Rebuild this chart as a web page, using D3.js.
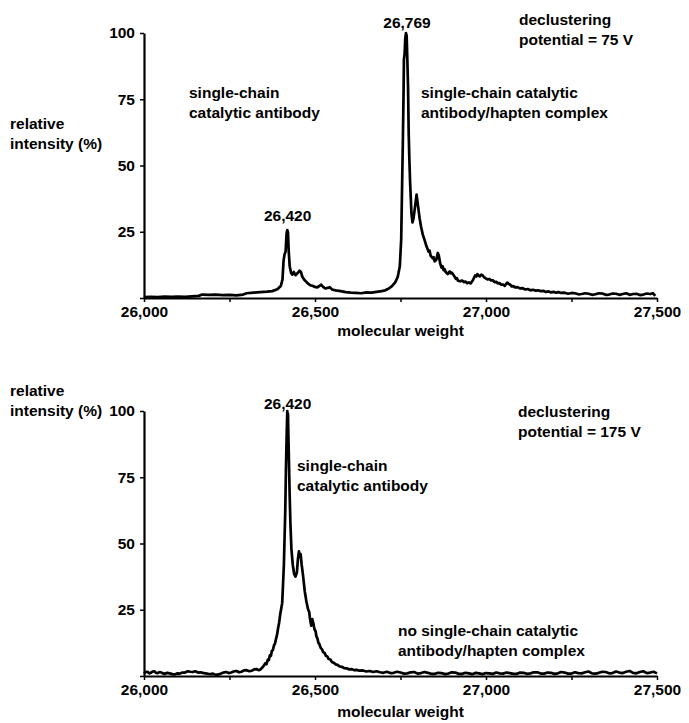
<!DOCTYPE html>
<html>
<head>
<meta charset="utf-8">
<script src="https://cdn.jsdelivr.net/npm/d3@7"></script>
<style>
body { margin: 0; background: #fff; }
text { font-family: "Liberation Sans", Arial, sans-serif; font-size: 15.5px; font-weight: bold; fill: #000; }
</style>
</head>
<body>
<svg id="chart" width="689" height="723"></svg>
<script>
// molecular weight ticks / intensity ticks
var xTicks = [26000, 26250, 26500, 26750, 27000, 27250, 27500];
var yTicks = [0, 25, 50, 75, 100];

// declustering potential = 75 V  -> [molecular weight, relative intensity %]
var spectrum75 = [
    [26000, 0.3], [26020, 0.4], [26040, 0.3], [26060, 0.5], [26080, 0.4], [26100, 0.5],
    [26120, 0.4], [26140, 0.6], [26160, 0.8], [26170, 1.3], [26190, 1.2], [26210, 1.3],
    [26230, 1.1], [26250, 1.2], [26270, 1.0], [26290, 1.3], [26300, 1.8], [26320, 2.0],
    [26340, 2.2], [26360, 2.4], [26375, 2.6], [26390, 3.3], [26400, 4.5], [26405, 7.0],
    [26408, 14.0], [26411, 16.5], [26414, 17.5], [26417, 24.5], [26419, 25.6], [26421, 24.8],
    [26423, 18.0], [26426, 12.0], [26430, 9.5], [26434, 8.8], [26438, 9.8], [26443, 8.6],
    [26450, 9.5], [26455, 10.3], [26459, 9.8], [26463, 8.0], [26468, 7.0], [26474, 6.2],
    [26480, 5.4], [26486, 4.8], [26492, 4.6], [26500, 4.2], [26507, 4.0], [26513, 4.6],
    [26518, 5.0], [26523, 4.3], [26530, 3.6], [26537, 3.8], [26543, 4.1], [26550, 3.2],
    [26560, 2.9], [26575, 2.6], [26590, 2.2], [26605, 2.0], [26620, 1.9], [26635, 1.8],
    [26650, 2.1], [26665, 2.0], [26680, 2.3], [26695, 2.6], [26705, 2.9], [26715, 3.5],
    [26725, 4.5], [26735, 6.0], [26742, 8.0], [26748, 12.0], [26752, 22.0], [26755, 45.0],
    [26757, 60.0], [26759, 78.0], [26760, 90.0], [26762, 92.0], [26764, 98.0], [26766, 100.0],
    [26768, 99.0], [26770, 90.0], [26772, 80.0], [26774, 62.0], [26776, 52.0], [26778, 44.0],
    [26780, 38.0], [26782, 32.0], [26785, 28.5], [26788, 30.0], [26791, 33.0], [26794, 36.0],
    [26797, 39.0], [26800, 36.0], [26803, 33.0], [26806, 30.0], [26810, 27.0], [26815, 24.0],
    [26820, 22.0], [26826, 19.5], [26829, 18.6], [26832, 17.5], [26835, 17.9], [26838, 16.0],
    [26844, 15.0], [26847, 15.4], [26850, 13.8], [26855, 14.5], [26859, 17.0], [26862, 16.0],
    [26866, 13.0], [26870, 11.5], [26873, 12.0], [26876, 10.5], [26879, 10.9], [26882, 9.8],
    [26888, 9.0], [26891, 9.6], [26894, 10.0], [26897, 9.3], [26900, 9.6], [26906, 8.5],
    [26912, 7.2], [26915, 7.5], [26918, 6.5], [26925, 6.3], [26930, 6.6], [26935, 6.0],
    [26940, 6.2], [26945, 5.6], [26950, 5.9], [26955, 5.5], [26962, 6.8], [26968, 8.5],
    [26972, 8.1], [26975, 9.0], [26979, 8.4], [26982, 8.2], [26986, 8.8], [26990, 8.6],
    [26994, 7.9], [26998, 7.5], [27005, 7.0], [27010, 7.2], [27015, 6.6], [27020, 6.7],
    [27025, 6.0], [27030, 6.1], [27035, 5.5], [27040, 5.6], [27045, 5.0], [27050, 5.1],
    [27055, 4.6], [27062, 5.8], [27068, 5.2], [27072, 4.9], [27075, 4.4], [27080, 4.5],
    [27085, 4.0], [27092, 4.1], [27100, 3.6], [27107, 3.7], [27115, 3.2], [27122, 3.4],
    [27130, 2.9], [27137, 3.1], [27145, 2.8], [27152, 2.9], [27160, 2.6], [27168, 2.7],
    [27175, 2.3], [27183, 2.5], [27190, 2.1], [27198, 2.3], [27205, 2.0], [27212, 2.2],
    [27220, 1.9], [27230, 2.0], [27240, 1.6], [27250, 1.9], [27260, 1.8], [27270, 1.4],
    [27280, 1.5], [27290, 1.8], [27300, 1.6], [27310, 1.2], [27320, 1.4], [27330, 1.8],
    [27340, 1.7], [27350, 1.2], [27360, 1.3], [27370, 1.7], [27380, 1.6], [27390, 1.2],
    [27400, 1.5], [27410, 1.8], [27420, 1.2], [27430, 1.5], [27440, 1.6], [27450, 1.1],
    [27460, 1.3], [27470, 1.7], [27480, 1.5], [27488, 1.8], [27495, 0.8]
];

// declustering potential = 175 V
var spectrum175 = [
    [26000, 1.0], [26005, 1.5], [26010, 1.6], [26015, 1.0], [26020, 1.2], [26025, 1.7],
    [26030, 1.8], [26035, 1.2], [26040, 1.1], [26045, 1.5], [26050, 1.4], [26055, 1.0],
    [26060, 0.8], [26068, 1.2], [26075, 1.0], [26083, 0.7], [26090, 0.6], [26098, 1.0],
    [26105, 0.9], [26112, 1.3], [26120, 1.3], [26128, 1.8], [26135, 1.6], [26142, 1.5],
    [26150, 1.8], [26158, 1.3], [26165, 1.4], [26172, 1.2], [26180, 1.0], [26188, 0.8],
    [26195, 0.7], [26202, 0.9], [26210, 0.4], [26218, 0.6], [26225, 0.9], [26232, 1.3],
    [26240, 1.5], [26248, 1.1], [26255, 1.3], [26262, 1.7], [26270, 1.9], [26278, 1.4],
    [26285, 1.6], [26292, 2.1], [26300, 2.2], [26308, 1.8], [26315, 2.0], [26322, 2.5],
    [26330, 2.6], [26335, 2.2], [26340, 2.4], [26348, 3.5], [26355, 4.8], [26358, 4.4],
    [26362, 6.2], [26365, 6.0], [26368, 7.8], [26371, 7.6], [26374, 9.5], [26377, 9.8],
    [26380, 11.5], [26383, 12.2], [26386, 14.0], [26389, 15.5], [26392, 18.0], [26395, 20.0],
    [26398, 23.0], [26402, 26.0], [26404, 27.5], [26406, 33.0], [26409, 42.0], [26411, 52.0],
    [26413, 62.0], [26415, 78.0], [26417, 90.0], [26419, 100.0], [26420, 96.0], [26421, 99.0],
    [26422, 92.0], [26424, 80.0], [26426, 68.0], [26428, 58.0], [26431, 48.0], [26435, 42.0],
    [26439, 38.5], [26443, 37.5], [26447, 39.0], [26450, 44.0], [26453, 47.0], [26455, 45.0],
    [26458, 46.0], [26461, 42.0], [26465, 38.0], [26470, 32.0], [26475, 28.0], [26480, 25.0],
    [26483, 24.2], [26485, 22.0], [26489, 19.0], [26492, 21.5], [26495, 20.0], [26497, 18.6],
    [26499, 17.5], [26502, 16.8], [26504, 15.0], [26507, 14.2], [26510, 12.5], [26513, 12.0],
    [26517, 10.5], [26520, 10.2], [26524, 9.0], [26528, 8.7], [26532, 7.6], [26536, 7.4],
    [26540, 6.4], [26545, 6.2], [26550, 5.2], [26555, 5.0], [26560, 4.4], [26566, 4.2],
    [26572, 3.6], [26578, 3.5], [26585, 3.0], [26592, 2.9], [26600, 2.5], [26608, 2.6],
    [26615, 2.2], [26622, 2.3], [26630, 2.0], [26640, 2.1], [26650, 1.7], [26660, 1.9],
    [26670, 1.5], [26680, 1.8], [26690, 1.4], [26700, 1.2], [26710, 1.6], [26720, 1.1],
    [26730, 1.2], [26740, 1.6], [26750, 1.3], [26760, 0.9], [26770, 1.0], [26780, 1.4],
    [26790, 1.5], [26800, 0.9], [26810, 1.1], [26820, 1.5], [26830, 1.2], [26840, 0.8],
    [26850, 0.8], [26860, 1.2], [26870, 1.1], [26880, 0.7], [26890, 0.9], [26900, 1.4],
    [26910, 1.3], [26920, 0.8], [26930, 0.8], [26940, 1.2], [26950, 1.0], [26960, 0.7],
    [26970, 1.2], [26980, 1.0], [26990, 0.7], [27000, 1.1], [27010, 1.0], [27020, 0.8],
    [27030, 1.3], [27040, 1.0], [27050, 0.9], [27060, 1.3], [27070, 1.1], [27080, 0.8],
    [27090, 0.8], [27100, 1.3], [27110, 1.2], [27120, 0.8], [27130, 1.0], [27140, 1.4],
    [27150, 1.4], [27160, 0.9], [27170, 0.9], [27180, 1.3], [27190, 1.2], [27200, 0.8],
    [27210, 1.0], [27220, 1.5], [27230, 1.3], [27240, 0.9], [27250, 0.9], [27260, 1.4],
    [27270, 1.1], [27280, 1.0], [27290, 1.4], [27300, 1.7], [27310, 1.0], [27320, 0.9],
    [27330, 1.2], [27340, 1.6], [27350, 1.5], [27360, 1.0], [27370, 1.1], [27380, 1.7],
    [27390, 1.3], [27400, 1.1], [27410, 1.6], [27420, 1.9], [27430, 1.2], [27440, 1.0],
    [27450, 1.5], [27460, 1.8], [27470, 1.1], [27480, 1.3], [27490, 1.6], [27500, 1.0]
];

var peaks75 = [26420, 26769];
var peaks175 = [26420];

var svg = d3.select('#chart');
var fmt = d3.format(',');

var x = d3.scaleLinear()
    .domain([26000, 27500])
    .range([144, 657]);

function panel(data, peaks, top, bottom, notes) {
    var y = d3.scaleLinear()
        .domain([0, 100])
        .range([bottom, top]);

    var g = svg.append('g');

    g.append('path')
        .datum(data)
        .attr('fill', 'none')
        .attr('stroke', '#000')
        .attr('stroke-width', 2.7)
        .attr('stroke-linejoin', 'round')
        .attr('d', d3.line().x(d => x(d[0])).y(d => y(d[1])));

    var yAxis = g.append('g')
        .attr('transform', 'translate(' + x(26000) + ',0)')
        .call(d3.axisLeft(y).tickValues(yTicks).tickSize(4).tickSizeOuter(0).tickPadding(5)
            .tickFormat(d => d ? d : ''));
    var xAxis = g.append('g')
        .attr('transform', 'translate(0,' + bottom + ')')
        .call(d3.axisBottom(x).tickValues(xTicks).tickSize(4).tickSizeOuter(0).tickPadding(4)
            .tickFormat(d => d % 500 ? '' : fmt(d)));

    [yAxis, xAxis].forEach(a => {
        a.select('.domain').attr('stroke', '#000').attr('stroke-width', 2.2);
        a.selectAll('.tick line').attr('stroke', '#000').attr('stroke-width', 1.5);
        a.selectAll('.tick text').attr('font-size', null).attr('font-family', null);
    });

    g.append('text')
        .attr('x', (x.range()[0] + x.range()[1]) / 2)
        .attr('y', bottom + notes.titleGap)
        .attr('text-anchor', 'middle')
        .text('molecular weight');

    // peak labels sit over their peaks
    g.selectAll('text.peak')
        .data(peaks)
        .enter().append('text')
            .attr('class', 'peak')
            .attr('x', d => x(d))
            .attr('y', (d, i) => notes.peakY[i])
            .attr('text-anchor', 'middle')
            .text(d => fmt(d));

    notes.blocks.forEach(b => {
        var t = g.append('text').attr('x', b.x).attr('y', b.y);
        b.lines.forEach((line, i) => {
            t.append('tspan')
                .attr('x', b.x)
                .attr('dy', i ? 19.5 : 0)
                .text(line);
        });
    });
}

panel(spectrum75, peaks75, 33, 298, {
    peakY: [221, 28],
    titleGap: 38,
    blocks: [
        {x: 10, y: 129, lines: ['relative', 'intensity (%)']},
        {x: 519, y: 25, lines: ['declustering', 'potential = 75 V']},
        {x: 189, y: 98, lines: ['single-chain', 'catalytic antibody']},
        {x: 421, y: 98, lines: ['single-chain catalytic', 'antibody/hapten complex']}
    ]
});

panel(spectrum175, peaks175, 411, 676, {
    peakY: [409],
    titleGap: 41,
    blocks: [
        {x: 10, y: 396, lines: ['relative', 'intensity (%)']},
        {x: 518, y: 417, lines: ['declustering', 'potential = 175 V']},
        {x: 297, y: 471, lines: ['single-chain', 'catalytic antibody']},
        {x: 398, y: 636, lines: ['no single-chain catalytic', 'antibody/hapten complex']}
    ]
});
</script>
</body>
</html>
